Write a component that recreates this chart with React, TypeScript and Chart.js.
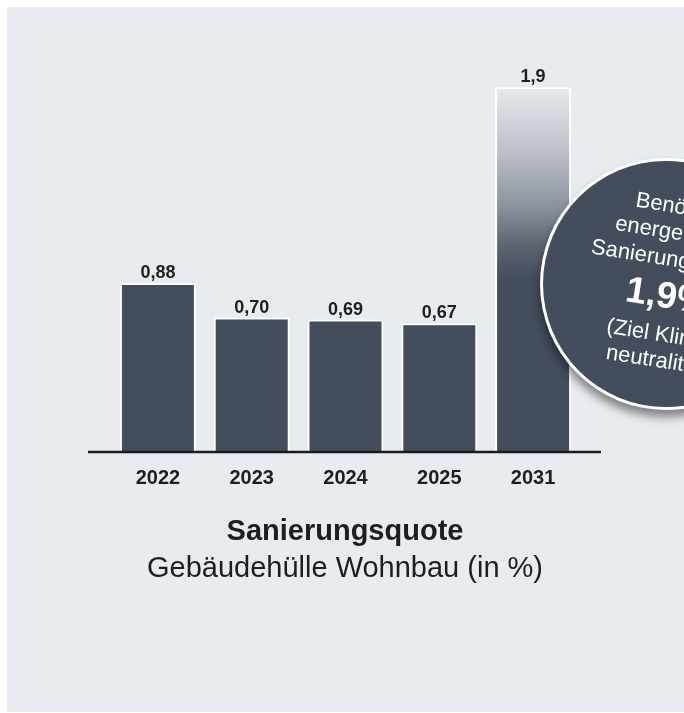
import React, { useEffect, useRef } from "react";
import { Chart, registerables } from "chart.js";

Chart.register(...registerables);

const categories: string[] = ["2022", "2023", "2024", "2025", "2031"];
const values: number[] = [0.88, 0.7, 0.69, 0.67, 1.9];
const valueLabels: string[] = ["0,88", "0,70", "0,69", "0,67", "1,9"];
const titleText = "Sanierungsquote";
const subtitleText = "Gebäudehülle Wohnbau (in %)";
const circleLines: string[] = ["Benötigte", "energetische", "Sanierungsquote", "1,9%", "(Ziel Klima-", "neutralität)"];

const FONT = "'Liberation Sans', Arial, Helvetica, sans-serif";
const DARK = "#434d5c";
const TEXT = "#1e1e1e";
const PANEL = "#e8ebf0";

const backgroundPlugin = {
  id: "panelBg",
  beforeDraw(chart: any) {
    const { ctx, width, height } = chart;
    ctx.save();
    ctx.fillStyle = "#ffffff";
    ctx.fillRect(0, 0, width, height);
    ctx.fillStyle = PANEL;
    ctx.fillRect(7, 7, width - 7, height - 8);
    ctx.restore();
  },
};

const overlayPlugin = {
  id: "overlay",
  afterDatasetsDraw(chart: any) {
    const { ctx, chartArea } = chart;
    const meta = chart.getDatasetMeta(0);
    ctx.save();
    ctx.strokeStyle = "#1c1c1c";
    ctx.lineWidth = 2.5;
    ctx.beginPath();
    ctx.moveTo(chartArea.left - 23, chartArea.bottom);
    ctx.lineTo(chartArea.right + 21, chartArea.bottom);
    ctx.stroke();
    ctx.fillStyle = TEXT;
    ctx.font = `bold 18px ${FONT}`;
    ctx.textAlign = "center";
    ctx.textBaseline = "alphabetic";
    meta.data.forEach((bar: any, i: number) => {
      ctx.fillText(valueLabels[i], bar.x, bar.y - 5);
    });
    ctx.restore();
  },
  afterDraw(chart: any) {
    const { ctx } = chart;
    ctx.save();
    ctx.fillStyle = TEXT;
    ctx.textAlign = "center";
    ctx.textBaseline = "alphabetic";
    ctx.font = `bold 29px ${FONT}`;
    ctx.fillText(titleText, 345, 540);
    ctx.font = `29px ${FONT}`;
    ctx.fillText(subtitleText, 345, 577);

    const cx = 666, cy = 284, r = 126;
    ctx.save();
    ctx.shadowColor = "rgba(0,0,0,0.45)";
    ctx.shadowBlur = 10;
    ctx.shadowOffsetX = 0;
    ctx.shadowOffsetY = 7;
    ctx.beginPath();
    ctx.arc(cx, cy, r, 0, Math.PI * 2);
    ctx.fillStyle = "#ffffff";
    ctx.fill();
    ctx.restore();
    ctx.beginPath();
    ctx.arc(cx, cy, r - 3, 0, Math.PI * 2);
    ctx.fillStyle = DARK;
    ctx.fill();

    ctx.translate(670, 282);
    ctx.rotate((9 * Math.PI) / 180);
    ctx.fillStyle = "#ffffff";
    ctx.textAlign = "center";
    const offs = [-69, -43, -16, 26, 60, 86];
    circleLines.forEach((line, i) => {
      ctx.font = i === 3 ? `bold 37px ${FONT}` : `22px ${FONT}`;
      ctx.fillText(line, 0, offs[i]);
    });
    ctx.restore();
  },
};

export default function App() {
  const canvasRef = useRef<HTMLCanvasElement | null>(null);

  useEffect(() => {
    if (!canvasRef.current) return;
    const chart = new Chart(canvasRef.current, {
      type: "bar",
      data: {
        labels: categories,
        datasets: [
          {
            data: values,
            backgroundColor: (c: any) => {
              const ch = c.chart;
              const idx = c.dataIndex;
              if (idx !== 4 || !ch.chartArea || !ch.scales || !ch.scales.y) return DARK;
              const y = ch.scales.y;
              const top = y.getPixelForValue(values[idx]);
              const bottom = y.getPixelForValue(0);
              const g = ch.ctx.createLinearGradient(0, top, 0, bottom);
              g.addColorStop(0, "#e8eaee");
              g.addColorStop(0.2, "#b5bac2");
              g.addColorStop(0.33, "#8a919b");
              g.addColorStop(0.44, "#5a6270");
              g.addColorStop(0.53, DARK);
              g.addColorStop(1, DARK);
              return g;
            },
            borderColor: "#ffffff",
            borderWidth: 2,
            borderSkipped: "bottom",
            barPercentage: 0.81,
            categoryPercentage: 1,
          },
        ],
      },
      options: {
        responsive: false,
        animation: false,
        events: [],
        layout: { padding: { left: 111, right: 104, top: 68, bottom: 211 } },
        plugins: {
          legend: { display: false },
          tooltip: { enabled: false },
          title: { display: false },
        },
        scales: {
          x: {
            grid: { display: false },
            border: { display: false },
            ticks: {
              color: TEXT,
              font: { family: FONT, size: 20, weight: "bold" },
              padding: 6,
            },
            afterFit: (s: any) => {
              s.height = 50;
            },
          },
          y: {
            display: false,
            min: 0,
            max: 2,
          },
        },
      } as any,
      plugins: [backgroundPlugin, overlayPlugin],
    });
    return () => chart.destroy();
  }, []);

  return (
    <div style={{ position: "fixed", left: 0, top: 0, width: 684, height: 713 }}>
      <canvas ref={canvasRef} width={684} height={713} style={{ display: "block" }} />
    </div>
  );
}
